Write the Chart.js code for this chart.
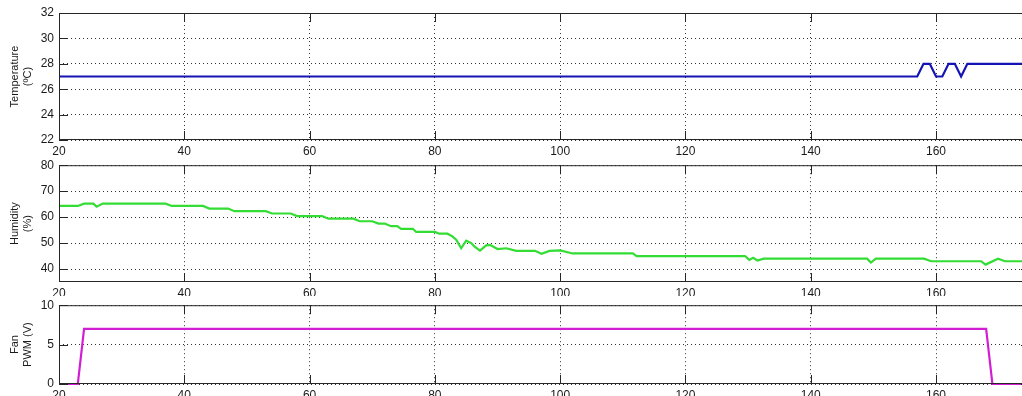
<!DOCTYPE html>
<html lang="en">
<head>
<meta charset="UTF-8" />
<title>Climate Log</title>
<script src="https://cdn.jsdelivr.net/npm/chart.js@4.4.0/dist/chart.umd.min.js"></script>
<style>
  html, body { margin: 0; padding: 0; background: #fff; overflow: hidden; }
  .panel { position: absolute; left: 0; width: 1030px; }
</style>
</head>
<body>
<div class="panel" style="top:0;height:156px"><canvas id="tempChart"></canvas></div>
<div class="panel" style="top:153px;height:143px"><canvas id="humChart"></canvas></div>
<div class="panel" style="top:293px;height:107px"><canvas id="fanChart"></canvas></div>

<script>
// shared x axis (time)
const xTicks = [20, 40, 60, 80, 100, 120, 140, 160];
const xMin = 20, xMax = 175;

// temperature (ºC)
const tempTime   = [20, 157, 158, 159, 160, 161, 162, 163, 164, 165, 175];
const tempValues = [27, 27, 28, 28, 27, 27, 28, 28, 27, 28, 28];
const tempTicks  = [22, 24, 26, 28, 30, 32];

// humidity (%)
const humTime = [20, 23, 24, 25.5, 26, 27, 37, 38, 43, 44, 47, 48, 53, 54, 57, 58, 62, 63, 67, 68,
  70, 71, 72, 73, 74, 74.6, 76.5, 77, 80, 80.7, 82, 82.8, 83.4, 84.2, 85, 85.8, 86.3, 87.2,
  88.2, 88.8, 90, 91.4, 93, 96, 97, 98.3, 100, 102, 111.6, 112.2, 129.5, 130.2, 130.8,
  131.5, 132.5, 149, 149.6, 150.4, 158.1, 159.2, 167.2, 167.9, 169.9, 171, 175];
const humValues = [64.3, 64.3, 65.2, 65.2, 64.0, 65.2, 65.2, 64.3, 64.3, 63.3, 63.3, 62.3, 62.3,
  61.4, 61.4, 60.4, 60.4, 59.4, 59.4, 58.4, 58.4, 57.5, 57.5, 56.5, 56.5, 55.5, 55.5, 54.3,
  54.3, 53.6, 53.6, 52.6, 51.3, 48.0, 50.9, 50.0, 48.7, 47.1, 49.1, 49.3, 47.7, 48.0, 47.0,
  47.0, 45.9, 47.0, 47.2, 46.0, 46.0, 45.0, 45.0, 43.5, 44.3, 43.3, 44.0, 44.0, 42.5, 44.0,
  44.0, 43.0, 43.0, 41.7, 44.0, 43.0, 43.0];
const humTicks = [40, 50, 60, 70, 80];

// fan PWM (V)
const fanTime   = [20, 23, 24, 168, 169, 175];
const fanValues = [0, 0, 7, 7, 0, 0];
const fanTicks  = [0, 5, 10];

function toPoints(xs, ys) {
  return xs.map((x, i) => ({ x: x, y: ys[i] }));
}

// box around the plot area plus inward tick marks, like the old plot tool
const boxTicks = {
  id: "boxTicks",
  afterDatasetsDraw(chart) {
    const ctx = chart.ctx;
    const a = chart.chartArea;
    const len = 9;
    ctx.save();
    ctx.strokeStyle = "#262626";
    ctx.lineWidth = 1;
    ctx.strokeRect(a.left + 0.5, a.top + 0.5, a.right - a.left - 1, a.bottom - a.top - 1);
    ctx.beginPath();
    chart.scales.x.ticks.forEach((t) => {
      const px = Math.round(chart.scales.x.getPixelForValue(t.value)) + 0.5;
      ctx.moveTo(px, a.bottom); ctx.lineTo(px, a.bottom - len);
      ctx.moveTo(px, a.top); ctx.lineTo(px, a.top + len);
    });
    chart.scales.y.ticks.forEach((t) => {
      const py = Math.round(chart.scales.y.getPixelForValue(t.value)) + 0.5;
      ctx.moveTo(a.left, py); ctx.lineTo(a.left + len, py);
      ctx.moveTo(a.right, py); ctx.lineTo(a.right - len, py);
    });
    ctx.stroke();
    ctx.restore();
  },
};

function makePanel(id, cfg) {
  new Chart(document.getElementById(id), {
    type: "line",
    data: {
      datasets: [{
        data: toPoints(cfg.xs, cfg.ys),
        borderColor: cfg.color,
        borderWidth: 2.2,
        pointRadius: 0,
        tension: 0,
        fill: false,
        clip: 3,
      }],
    },
    options: {
      responsive: true,
      maintainAspectRatio: false,
      animation: false,
      events: [],
      layout: { padding: { top: cfg.padTop, left: 0, right: 0, bottom: 0 } },
      plugins: { legend: { display: false }, tooltip: { enabled: false } },
      scales: {
        x: {
          type: "linear",
          min: xMin,
          max: xMax,
          afterBuildTicks: (s) => { s.ticks = xTicks.map((v) => ({ value: v })); },
          afterFit: (s) => { s.height = cfg.xHeight; },
          grid: { color: "#333", lineWidth: 1, drawTicks: false },
          border: { display: false, dash: [1, 3] },
          ticks: {
            color: "#1a1a1a",
            padding: 4,
            maxRotation: 0,
            autoSkip: false,
            font: { family: "Liberation Sans", size: 12 },
          },
        },
        y: {
          min: cfg.yMin,
          max: cfg.yMax,
          afterBuildTicks: (s) => { s.ticks = cfg.yTicks.map((v) => ({ value: v })); },
          afterFit: (s) => { s.width = 59; },
          grid: { color: "#333", lineWidth: 1, drawTicks: false },
          border: { display: false, dash: [1, 3] },
          ticks: {
            color: "#1a1a1a",
            padding: 5,
            font: { family: "Liberation Sans", size: 12 },
          },
          title: {
            display: true,
            text: cfg.title,
            color: "#1a1a1a",
            padding: { top: 8, bottom: 0 },
            font: { family: "Liberation Sans", size: 11, lineHeight: 1.2 },
          },
        },
      },
    },
    plugins: [boxTicks],
  });
}

makePanel("tempChart", {
  xs: tempTime, ys: tempValues, color: "#1414b4",
  yMin: 22, yMax: 32, yTicks: tempTicks,
  title: ["Temperature", "(ºC)"], padTop: 13, xHeight: 16,
});
makePanel("humChart", {
  xs: humTime, ys: humValues, color: "#33dd33",
  yMin: 35, yMax: 80, yTicks: humTicks,
  title: ["Humidity", "(%)"], padTop: 9, xHeight: 14,
});
makePanel("fanChart", {
  xs: fanTime, ys: fanValues, color: "#d21ed2",
  yMin: 0, yMax: 10, yTicks: fanTicks,
  title: ["Fan", "PWM (V)"], padTop: 9, xHeight: 16,
});
</script>
</body>
</html>
